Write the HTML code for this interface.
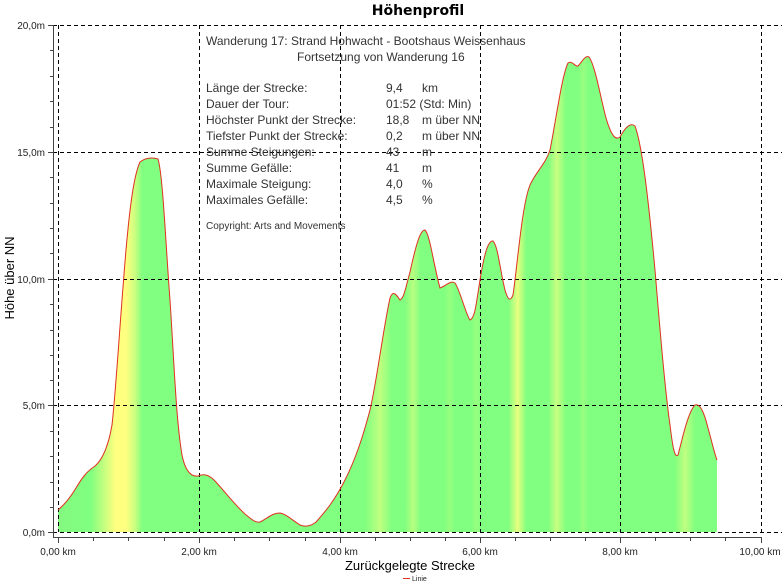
<!DOCTYPE html>
<html><head><meta charset="utf-8"><style>
html,body{margin:0;padding:0;background:#fff}
svg{display:block;font-family:"Liberation Sans",sans-serif}
</style></head><body>
<svg width="782" height="587" viewBox="0 0 782 587" xmlns="http://www.w3.org/2000/svg">
<defs>
<linearGradient id="g" gradientUnits="userSpaceOnUse" x1="0" y1="0" x2="782" y2="0">
<stop offset="0.074" stop-color="#84f880"/>
<stop offset="0.116" stop-color="#80ff80"/>
<stop offset="0.134" stop-color="#c8ff80"/>
<stop offset="0.148" stop-color="#ffff80"/>
<stop offset="0.161" stop-color="#ffff80"/>
<stop offset="0.173" stop-color="#c8ff80"/>
<stop offset="0.182" stop-color="#80ff80"/>
<stop offset="0.467" stop-color="#80ff80"/>
<stop offset="0.486" stop-color="#c0ff80"/>
<stop offset="0.501" stop-color="#80ff80"/>
<stop offset="0.518" stop-color="#80ff80"/>
<stop offset="0.528" stop-color="#b8ff80"/>
<stop offset="0.538" stop-color="#80ff80"/>
<stop offset="0.568" stop-color="#80ff80"/>
<stop offset="0.575" stop-color="#98ff80"/>
<stop offset="0.582" stop-color="#80ff80"/>
<stop offset="0.602" stop-color="#80ff80"/>
<stop offset="0.609" stop-color="#98ff80"/>
<stop offset="0.616" stop-color="#80ff80"/>
<stop offset="0.650" stop-color="#80ff80"/>
<stop offset="0.662" stop-color="#e8ff80"/>
<stop offset="0.673" stop-color="#80ff80"/>
<stop offset="0.701" stop-color="#80ff80"/>
<stop offset="0.712" stop-color="#c8ff80"/>
<stop offset="0.724" stop-color="#80ff80"/>
<stop offset="0.739" stop-color="#80ff80"/>
<stop offset="0.746" stop-color="#98ff80"/>
<stop offset="0.753" stop-color="#80ff80"/>
<stop offset="0.863" stop-color="#80ff80"/>
<stop offset="0.876" stop-color="#c0ff80"/>
<stop offset="0.889" stop-color="#80ff80"/>
<stop offset="1" stop-color="#80ff80"/>
</linearGradient>
</defs>
<text x="418" y="15" font-size="14" font-weight="bold" text-anchor="middle" font-family="DejaVu Sans, sans-serif">Höhenprofil</text>

<path d="M58,532 L58,510 C64,505 70,498 76,488 C82,478 86,472 95,466 C102,460 108,448 112,425 C116,390 120,320 126,250 C130,205 134,175 140,162 C145,158 152,157 158,159 C163,175 166,250 170,300 C174,360 176,420 182,455 C185,470 190,477 198,476 C203,474 208,474 214,480 C222,488 232,502 245,514 C252,520 256,523 260,522 C268,518 272,513 280,513 C286,514 292,520 300,525 C305,527 310,527 316,522 C325,512 335,500 345,480 C355,460 362,440 370,410 C377,380 383,330 390,298 C393,290 396,294 400,300 C404,298 405,290 410,272 C416,245 420,230 425,230 C430,235 433,262 440,288 C446,286 450,280 455,283 C460,290 466,315 470,320 C475,318 476,305 480,280 C484,255 488,240 493,241 C498,246 500,270 505,290 C508,300 510,302 513,295 C518,260 522,205 530,185 C537,170 545,165 550,150 C556,120 562,75 568,63 C572,60 575,67 578,66 C582,62 585,55 589,57 C595,65 600,95 606,118 C612,138 616,140 620,137 C625,128 630,122 635,126 C642,145 648,195 655,270 C660,330 665,390 670,425 C673,450 675,458 678,455 C682,440 688,412 695,405 C700,403 704,412 708,428 C712,442 714,452 717,460 L717,532 Z" fill="url(#g)" stroke="none"/>

<g stroke="#000" stroke-width="1" stroke-dasharray="4,3" fill="none">
<line x1="58.5" y1="25" x2="58.5" y2="532"/>
<line x1="199.5" y1="25" x2="199.5" y2="532"/>
<line x1="340.5" y1="25" x2="340.5" y2="532"/>
<line x1="480.5" y1="25" x2="480.5" y2="532"/>
<line x1="620.5" y1="25" x2="620.5" y2="532"/>
<line x1="761.5" y1="25" x2="761.5" y2="532"/>
<line x1="53" y1="25.5" x2="782" y2="25.5"/>
<line x1="53" y1="152.5" x2="782" y2="152.5"/>
<line x1="53" y1="279.5" x2="782" y2="279.5"/>
<line x1="53" y1="405.5" x2="782" y2="405.5"/>
<line x1="53" y1="532.5" x2="782" y2="532.5"/>
</g>

<path d="M58,510 C64,505 70,498 76,488 C82,478 86,472 95,466 C102,460 108,448 112,425 C116,390 120,320 126,250 C130,205 134,175 140,162 C145,158 152,157 158,159 C163,175 166,250 170,300 C174,360 176,420 182,455 C185,470 190,477 198,476 C203,474 208,474 214,480 C222,488 232,502 245,514 C252,520 256,523 260,522 C268,518 272,513 280,513 C286,514 292,520 300,525 C305,527 310,527 316,522 C325,512 335,500 345,480 C355,460 362,440 370,410 C377,380 383,330 390,298 C393,290 396,294 400,300 C404,298 405,290 410,272 C416,245 420,230 425,230 C430,235 433,262 440,288 C446,286 450,280 455,283 C460,290 466,315 470,320 C475,318 476,305 480,280 C484,255 488,240 493,241 C498,246 500,270 505,290 C508,300 510,302 513,295 C518,260 522,205 530,185 C537,170 545,165 550,150 C556,120 562,75 568,63 C572,60 575,67 578,66 C582,62 585,55 589,57 C595,65 600,95 606,118 C612,138 616,140 620,137 C625,128 630,122 635,126 C642,145 648,195 655,270 C660,330 665,390 670,425 C673,450 675,458 678,455 C682,440 688,412 695,405 C700,403 704,412 708,428 C712,442 714,452 717,460" fill="none" stroke="#e03020" stroke-width="1"/>

<g stroke="#444" stroke-width="1">
<line x1="53.5" y1="25" x2="53.5" y2="537"/>
<line x1="53" y1="537.5" x2="762" y2="537.5"/>
<line x1="48" y1="25.5" x2="53" y2="25.5"/>
<line x1="48" y1="152.5" x2="53" y2="152.5"/>
<line x1="48" y1="279.5" x2="53" y2="279.5"/>
<line x1="48" y1="405.5" x2="53" y2="405.5"/>
<line x1="48" y1="532.5" x2="53" y2="532.5"/>
<path d="M50,50.5h3M50,76.5h3M50,101.5h3M50,127.5h3M50,177.5h3M50,203.5h3M50,228.5h3M50,253.5h3M50,304.5h3M50,330.5h3M50,355.5h3M50,380.5h3M50,431.5h3M50,456.5h3M50,482.5h3M50,507.5h3"/>
<path d="M58.5,537v6M93.5,537v4M128.5,537v4M164.5,537v4M199.5,537v6M234.5,537v4M269.5,537v4M305.5,537v4M340.5,537v6M375.5,537v4M410.5,537v4M445.5,537v4M480.5,537v6M515.5,537v4M550.5,537v4M585.5,537v4M620.5,537v6M655.5,537v4M690.5,537v4M725.5,537v4M761.5,537v6"/>
</g>

<g font-size="10" fill="#222" text-anchor="end">
<text x="45" y="29">20,0m</text>
<text x="45" y="156">15,0m</text>
<text x="45" y="283">10,0m</text>
<text x="45" y="409">5,0m</text>
<text x="45" y="536">0,0m</text>
</g>
<g font-size="10" fill="#222" text-anchor="middle">
<text x="58" y="555">0,00 km</text>
<text x="199" y="555">2,00 km</text>
<text x="340" y="555">4,00 km</text>
<text x="480" y="555">6,00 km</text>
<text x="620" y="555">8,00 km</text>
<text x="760" y="555">10,00 km</text>
</g>
<text x="410" y="570" font-size="13" text-anchor="middle" fill="#000">Zurückgelegte Strecke</text>
<line x1="403" y1="578.5" x2="410" y2="578.5" stroke="#e03020" stroke-width="1"/>
<text x="412" y="581" font-size="7" fill="#222">Linie</text>
<text transform="translate(14,278) rotate(-90)" font-size="13" text-anchor="middle" fill="#000">Höhe über NN</text>

<g font-size="12" fill="#333">
<text x="206" y="45">Wanderung 17: Strand Hohwacht - Bootshaus Weissenhaus</text>
<text x="297" y="61">Fortsetzung von Wanderung 16</text>
<text x="206" y="92">Länge der Strecke:</text>
<text x="206" y="108">Dauer der Tour:</text>
<text x="206" y="124">Höchster Punkt der Strecke:</text>
<text x="206" y="140">Tiefster Punkt der Strecke:</text>
<text x="206" y="156">Summe Steigungen:</text>
<text x="206" y="172">Summe Gefälle:</text>
<text x="206" y="188">Maximale Steigung:</text>
<text x="206" y="204">Maximales Gefälle:</text>
<text x="386" y="92">9,4</text><text x="422" y="92">km</text>
<text x="386" y="108">01:52 (Std: Min)</text>
<text x="386" y="124">18,8</text><text x="422" y="124">m über NN</text>
<text x="386" y="140">0,2</text><text x="422" y="140">m über NN</text>
<text x="386" y="156">43</text><text x="422" y="156">m</text>
<text x="386" y="172">41</text><text x="422" y="172">m</text>
<text x="386" y="188">4,0</text><text x="422" y="188">%</text>
<text x="386" y="204">4,5</text><text x="422" y="204">%</text>
<text x="206" y="229" font-size="10">Copyright: Arts and Movements</text>
</g>
</svg>
</body></html>
